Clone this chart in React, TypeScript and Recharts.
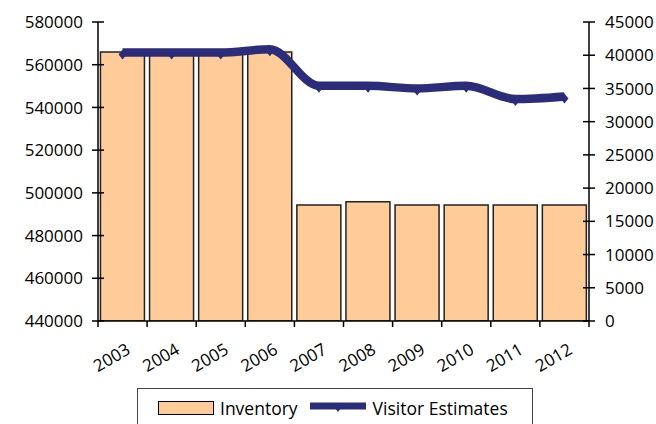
import { ComposedChart, Bar, Line, XAxis, YAxis, Legend } from 'recharts'

const years = ['2003', '2004', '2005', '2006', '2007', '2008', '2009', '2010', '2011', '2012']
const inventory = [566000, 566000, 566000, 566000, 494300, 495800, 494300, 494300, 494300, 494300]
const visitors = [40400, 40400, 40400, 40900, 35400, 35400, 35000, 35400, 33400, 33800]
const leftTicks = [440000, 460000, 480000, 500000, 520000, 540000, 560000, 580000]
const rightTicks = [0, 5000, 10000, 15000, 20000, 25000, 30000, 35000, 40000, 45000]

const data = years.map((year, i) => ({ year, inventory: inventory[i], visitors: visitors[i] }))

const FONT = '"Open Sans", "Noto Sans", sans-serif'
const BAR_FILL = '#FFCC99'
const LINE_COLOR = '#2B2C7A'

function LeftTick({ x, y, payload }: any) {
  return (
    <g>
      <line x1={x - 6} x2={x + 6} y1={y} y2={y} stroke="#000" strokeWidth={1.5} />
      <text x={x - 15} y={y} dy="0.36em" textAnchor="end" fontSize={17} fontFamily={FONT} fill="#000">
        {payload.value}
      </text>
    </g>
  )
}

function RightTick({ x, y, payload }: any) {
  return (
    <g>
      <line x1={x - 6} x2={x + 6} y1={y} y2={y} stroke="#000" strokeWidth={1.5} />
      <text x={x + 16} y={y} dy="0.36em" textAnchor="start" fontSize={17} fontFamily={FONT} fill="#000">
        {payload.value}
      </text>
    </g>
  )
}

function YearTick({ x, y, payload, index, visibleTicksCount }: any) {
  const half = payload.offset ?? 24.55
  const tx = x + 9
  const ty = y + 32
  return (
    <g>
      <line x1={x - half} x2={x - half} y1={y} y2={y + 6} stroke="#000" strokeWidth={1.5} />
      {index === visibleTicksCount - 1 && (
        <line x1={x + half} x2={x + half} y1={y} y2={y + 6} stroke="#000" strokeWidth={1.5} />
      )}
      <text
        x={tx}
        y={ty}
        textAnchor="end"
        fontSize={17}
        fontFamily={FONT}
        fill="#000"
        transform={`rotate(-30 ${tx} ${ty})`}
      >
        {payload.value}
      </text>
    </g>
  )
}

function Diamond({ cx, cy }: any) {
  if (cx == null || cy == null) return null
  const y = cy + 2
  return <polygon points={`${cx},${y - 5} ${cx + 4},${y} ${cx},${y + 5} ${cx - 4},${y}`} fill={LINE_COLOR} />
}

function LegendBox() {
  return (
    <div
      style={{
        boxSizing: 'border-box',
        width: 396,
        height: 40,
        border: '1.5px solid #444',
        background: '#fff',
        display: 'flex',
        alignItems: 'center',
        fontFamily: FONT,
        fontSize: 17.5,
        color: '#000',
        paddingLeft: 20,
      }}
    >
      <span style={{ display: 'inline-block', width: 56, height: 14, boxSizing: 'border-box', background: BAR_FILL, border: '1.5px solid #000', marginRight: 6 }} />
      <span style={{ marginRight: 12 }}>Inventory</span>
      <svg width={56} height={16} style={{ marginRight: 7 }}>
        <line x1={0} x2={56} y1={6} y2={6} stroke={LINE_COLOR} strokeWidth={7} />
        <polygon points="28,4 31,8 28,12 25,8" fill={LINE_COLOR} />
      </svg>
      <span>Visitor Estimates</span>
    </div>
  )
}

export default function App() {
  return (
    <div style={{ position: 'absolute', left: 0, top: 0, width: 656, height: 424, background: '#fff' }}>
      <ComposedChart
        width={656}
        height={424}
        data={data}
        margin={{ top: 22, right: 0, bottom: 0, left: 0 }}
        barCategoryGap="5%"
      >
        <XAxis
          dataKey="year"
          height={63}
          axisLine={{ stroke: '#000', strokeWidth: 1.5 }}
          tickLine={false}
          tickSize={0}
          tickMargin={0}
          interval={0}
          tick={<YearTick />}
        />
        <YAxis
          yAxisId="left"
          width={98}
          domain={[440000, 580000]}
          ticks={leftTicks}
          allowDataOverflow
          axisLine={{ stroke: '#000', strokeWidth: 1.5 }}
          tickLine={false}
          tickSize={0}
          tickMargin={0}
          tick={<LeftTick />}
        />
        <YAxis
          yAxisId="right"
          orientation="right"
          width={67}
          domain={[0, 45000]}
          ticks={rightTicks}
          allowDataOverflow
          axisLine={{ stroke: '#000', strokeWidth: 1.5 }}
          tickLine={false}
          tickSize={0}
          tickMargin={0}
          tick={<RightTick />}
        />
        <Bar
          yAxisId="left"
          dataKey="inventory"
          name="Inventory"
          fill={BAR_FILL}
          stroke="#222"
          strokeWidth={1.5}
          isAnimationActive={false}
        />
        <Line
          yAxisId="right"
          dataKey="visitors"
          name="Visitor Estimates"
          type="monotone"
          stroke={LINE_COLOR}
          strokeWidth={8.5}
          dot={<Diamond />}
          activeDot={false}
          isAnimationActive={false}
        />
        <Legend
          content={<LegendBox />}
          wrapperStyle={{ position: 'absolute', left: 137, top: 388, bottom: 'auto', width: 396, height: 40 }}
        />
      </ComposedChart>
    </div>
  )
}
